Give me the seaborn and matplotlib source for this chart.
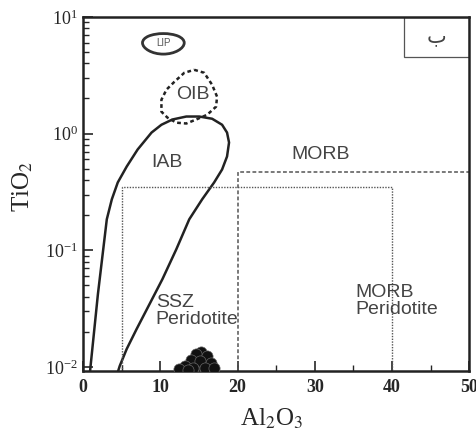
import numpy as np
import pandas as pd
import matplotlib
matplotlib.use("Agg")
import matplotlib.pyplot as plt
from matplotlib.patches import Ellipse, Rectangle
import seaborn as sns

# Field boundaries (Al2O3 wt%, TiO2 wt%)
iab_x = [0.90, 1.93, 3.08, 3.73, 4.50, 5.66, 7.07, 8.87, 10.15, 11.57, 13.37, 15.04, 16.71,
         18.0, 18.64, 18.9, 18.64, 18.0, 16.97, 15.42, 13.75, 12.08, 10.28, 8.61, 6.94, 5.66, 4.76, 4.5]
iab_y = [0.0090, 0.042, 0.184, 0.273, 0.381, 0.522, 0.730, 1.02, 1.19, 1.32, 1.40, 1.40, 1.34,
         1.19, 1.02, 0.838, 0.636, 0.492, 0.381, 0.273, 0.184, 0.102, 0.0565, 0.0345, 0.0211, 0.01425, 0.0102, 0.0090]

oib_x = [14.40, 15.68, 16.71, 17.35, 17.22, 16.07, 14.65, 13.37, 12.08, 10.93, 10.15, 10.15, 10.80, 11.83, 13.11, 14.40]
oib_y = [3.52, 3.32, 2.62, 2.07, 1.70, 1.45, 1.32, 1.22, 1.24, 1.37, 1.54, 1.95, 2.38, 2.78, 3.32, 3.52]

ssz_x = [5.0, 5.0, 40.0, 40.0]
ssz_y = [0.005, 0.345, 0.345, 0.005]

morb_x = [20.0, 20.0, 50.0]
morb_y = [0.005, 0.465, 0.465]

# Samples
sample_al2o3 = [15.3, 14.6, 16.0, 14.0, 15.2, 16.5, 13.2, 12.4, 14.3, 15.8, 16.9, 13.6]
sample_tio2 = [0.0135, 0.0128, 0.0124, 0.0115, 0.0113, 0.0108, 0.0102, 0.0096, 0.0098, 0.0098, 0.0097, 0.0094]

sns.set_style("ticks")
plt.rcParams["font.family"] = ["Liberation Serif", "DejaVu Serif"]
plt.rcParams["mathtext.fontset"] = "stix"

fig = plt.figure(figsize=(4.77, 4.34), dpi=100)
ax = fig.add_axes([0.174, 0.145, 0.81, 0.816])

sns.lineplot(x=iab_x, y=iab_y, sort=False, estimator=None, color="#222222", lw=1.8, ax=ax)
sns.lineplot(x=oib_x, y=oib_y, sort=False, estimator=None, color="#222222", lw=1.8,
             linestyle=(0, (1.5, 1.2)), ax=ax)
sns.lineplot(x=ssz_x, y=ssz_y, sort=False, estimator=None, color="#555555", lw=1.0,
             linestyle=(0, (1, 1)), ax=ax)
sns.lineplot(x=morb_x, y=morb_y, sort=False, estimator=None, color="#555555", lw=1.1,
             linestyle=(0, (2.5, 1.5)), ax=ax)

df = pd.DataFrame({"Al2O3": sample_al2o3, "TiO2": sample_tio2})
sns.scatterplot(data=df, x="Al2O3", y="TiO2", color="#111111", s=65, edgecolor="#666666",
                linewidth=0.5, ax=ax, zorder=5)

ax.add_patch(Ellipse((10.4, 6.0), 5.4, 2.4, fill=False, lw=2.0, ec="#333333"))

ax.set_yscale("log")
ax.set_xlim(0, 50)
ax.set_ylim(0.0092, 10)

lab = dict(family=["Liberation Sans", "DejaVu Sans"], color="#444444", fontsize=14)
ax.text(10.4, 6.0, "LIP", ha="center", va="center", family=["Liberation Sans"], color="#555555", fontsize=7)
ax.text(14.2, 2.15, "OIB", ha="center", va="center", **lab)
ax.text(10.8, 0.56, "IAB", ha="center", va="center", **lab)
ax.text(30.8, 0.66, "MORB", ha="center", va="center", **lab)
ax.text(9.4, 0.030, "SSZ\nPeridotite", ha="left", va="center", linespacing=1.0, **lab)
ax.text(35.2, 0.037, "MORB\nPeridotite", ha="left", va="center", linespacing=1.0, **lab)

# corner box
ax.add_patch(Rectangle((0.83, 0.887), 0.17, 0.113, transform=ax.transAxes,
                       fill=False, lw=0.9, ec="#555555"))
ax.text(0.915, 0.945, "ب", transform=ax.transAxes, ha="center", va="center",
        family=["DejaVu Sans"], fontsize=15, color="#444444")

ax.set_xticks([0, 10, 20, 30, 40, 50])
ax.set_xticks([5, 15, 25, 35, 45], minor=True)
ax.tick_params(axis="both", which="major", direction="in", length=7, width=1.2, labelsize=13)
ax.tick_params(axis="both", which="minor", direction="in", length=4, width=1.0)
ax.tick_params(axis="x", pad=6)
for lbl in ax.get_xticklabels():
    lbl.set_fontweight("bold")
for s in ax.spines.values():
    s.set_linewidth(1.8)
    s.set_color("#222222")

ax.set_xlabel("Al$_2$O$_3$", fontsize=18)
ax.xaxis.set_label_coords(0.487, -0.1)
ax.set_ylabel("TiO$_2$", fontsize=18)
ax.yaxis.set_label_coords(-0.125, 0.52)

fig.savefig("out.png", dpi=100)
